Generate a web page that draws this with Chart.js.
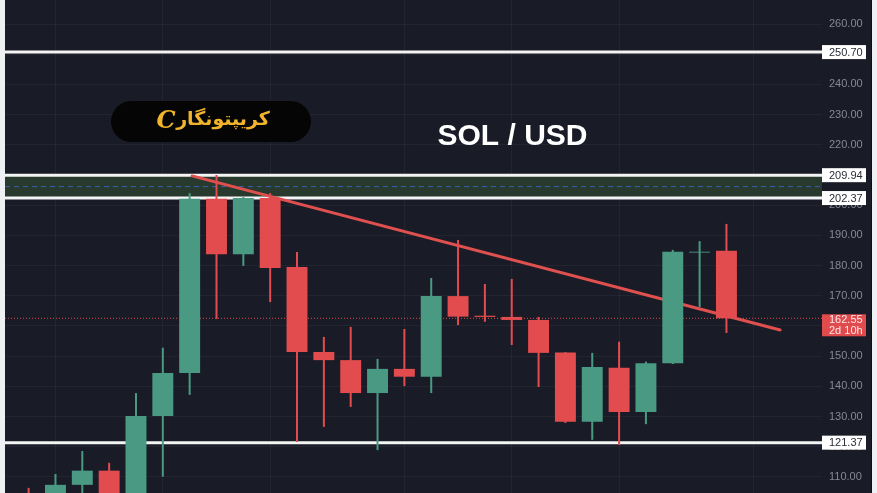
<!DOCTYPE html>
<html><head><meta charset="utf-8">
<script src="https://cdn.jsdelivr.net/npm/chart.js@4/dist/chart.umd.min.js"></script>
<style>
html,body{margin:0;padding:0;background:#eef0f3;width:877px;height:493px;overflow:hidden}
#wrap{position:absolute;left:5px;top:0;width:866px;height:493px;background:#191c27;border-right:1px solid #0c0e14}
canvas{display:block}
</style></head><body><div id="wrap"><canvas id="c" width="866" height="493"></canvas></div>
<script>
// ---- data ----
const candleIdx = [0,1,2,3,4,5,6,7,8,9,10,11,12,13,14,15,16,17,18,19,20,21,22,23,24,25,26];
const opens  = [104.4,101.0,107.4,112.1,101.5,130.2,144.4,202.1,183.8,202.4,179.5,151.4,148.7,137.8,145.8,143.2,169.9,163.4,163.0,162.0,151.2,128.3,146.2,131.5,147.7,184.3,184.9];
const highs  = [106.4,111.0,118.6,114.7,137.8,152.8,204.0,210.0,202.7,204.0,184.5,156.4,159.7,149.1,159.0,175.9,188.5,173.9,175.6,163.0,151.4,151.1,154.8,148.2,185.2,188.1,193.8];
const lows   = [ 99.0, 98.0,103.0, 99.5, 99.0,110.1,137.2,162.3,179.9,167.9,121.6,126.6,133.2,118.9,140.1,137.8,160.3,161.4,153.7,139.8,127.9,122.3,120.6,127.5,147.4,166.3,157.7];
const closes = [100.5,107.4,112.1,101.5,130.2,144.4,202.1,183.8,202.4,179.2,151.4,148.7,137.8,145.8,143.2,169.9,163.1,163.0,162.0,151.1,128.3,146.4,131.5,147.7,184.6,184.6,162.55];
const monthGridIdx = [1,5,9,14,18,22,27];
const levelLines = [250.70, 209.94, 202.37, 121.37];
const zoneBounds = [202.37, 209.94];
const lastPrice = 162.55;
const countdown = "2d 10h";
const trendX = [6.09, 28.0];
const trendY = [209.7, 158.7];
const yTicksStep = 10;
const titleText = "SOL / USD";
const brandText = "کریپتونگار";

const X_MIN = -0.88, X_MAX = 29.56, Y_MIN = 104.7, Y_MAX = 267.95;
const GREEN = '#4a9a83', RED = '#e24c4e';
const isUp = i => closes[i] >= opens[i];

const hline = (v) => [{x: X_MIN, y: v}, {x: X_MAX, y: v}];

const datasets = [
  { type:'bar', data: candleIdx.map((x,i)=>({x, y:[opens[i], closes[i]]})),
    backgroundColor: c => isUp(c.dataIndex) ? GREEN : RED,
    grouped:false, categoryPercentage:1, barPercentage:0.78, borderWidth:0 },
  { type:'bar', data: candleIdx.map((x,i)=>({x, y:[lows[i], highs[i]]})),
    backgroundColor: c => isUp(c.dataIndex) ? GREEN : RED,
    grouped:false, categoryPercentage:1, barPercentage:0.075, borderWidth:0 },
  { type:'line', data: trendX.map((x,i)=>({x, y: trendY[i]})), borderColor:'#e0504f', borderWidth:3, pointRadius:0, borderCapStyle:'round' },
  { type:'line', data: hline(lastPrice), borderColor:'#d94a4c', borderWidth:1, borderDash:[1,2], pointRadius:0 },
  ...levelLines.map(v => ({ type:'line', data: hline(v), borderColor:'#f4f4f4', borderWidth:3, pointRadius:0 })),
  { type:'line', data: hline((zoneBounds[0]+zoneBounds[1])/2), borderColor:'#3b5daf', borderWidth:1, borderDash:[5,4], pointRadius:0 },
  { type:'line', data: hline(zoneBounds[1]), borderWidth:0, pointRadius:0, backgroundColor:'#283a2e', fill:{value: zoneBounds[0]} }
];

const overlay = {
  id:'overlay',
  afterDraw(chart){
    const ctx = chart.ctx, y = chart.scales.y, area = chart.chartArea;
    ctx.save();
    // level label boxes
    ctx.font = '11px "Liberation Sans", Arial, sans-serif';
    ctx.textBaseline = 'middle'; ctx.textAlign = 'left';
    levelLines.forEach(v => {
      const py = y.getPixelForValue(v);
      ctx.fillStyle = '#ffffff';
      ctx.fillRect(area.right, py - 7, 44, 14);
      ctx.fillStyle = '#2a2d35';
      ctx.fillText(v.toFixed(2), area.right + 7, py + 0.5);
    });
    // last price box
    const pp = y.getPixelForValue(lastPrice);
    ctx.fillStyle = '#e04b4e';
    ctx.fillRect(area.right, pp - 4, 44, 22);
    ctx.fillStyle = '#fde8e8';
    ctx.fillText(lastPrice.toFixed(2), area.right + 7, pp + 2);
    ctx.fillText(countdown, area.right + 7, pp + 13);
    // title
    ctx.fillStyle = '#ffffff';
    ctx.font = 'bold 30px "Liberation Sans", Arial, sans-serif';
    ctx.textAlign = 'center';
    ctx.fillText(titleText, 507.5, 137);
    // brand pill
    ctx.fillStyle = '#050505';
    ctx.beginPath();
    ctx.roundRect(106, 101, 200, 41, 20.5);
    ctx.fill();
    ctx.fillStyle = '#f2b42c';
    ctx.font = 'bold 19px "DejaVu Sans", sans-serif';
    ctx.textAlign = 'center';
    ctx.direction = 'rtl';
    ctx.fillText(brandText, 218, 120);
    ctx.direction = 'ltr';
    ctx.font = 'italic bold 24px "DejaVu Serif", serif';
    ctx.fillText('C', 161, 122);
    ctx.restore();
  }
};

new Chart(document.getElementById('c'), {
  type:'bar',
  data:{ datasets },
  plugins:[overlay],
  options:{
    responsive:false, animation:false, devicePixelRatio:1,
    layout:{ padding:0 },
    plugins:{ legend:{display:false}, tooltip:{enabled:false}, title:{display:false} },
    scales:{
      x:{ type:'linear', min:X_MIN, max:X_MAX, offset:false,
          grid:{ offset:false, color:'rgba(255,255,255,0.045)', drawTicks:false },
          border:{display:false}, ticks:{display:false},
          afterBuildTicks: s => { s.ticks = monthGridIdx.map(v => ({value:v})); },
          afterFit: s => { s.height = 0; s.paddingLeft = 0; s.paddingRight = 0; } },
      y:{ type:'linear', position:'right', min:Y_MIN, max:Y_MAX, beginAtZero:false,
          grid:{ color:'rgba(255,255,255,0.045)', drawTicks:false },
          border:{display:false},
          ticks:{ stepSize:yTicksStep, includeBounds:false, padding:7, color:'#868993',
                  font:{ size:11, family:'"Liberation Sans", Arial, sans-serif' },
                  callback: v => Number(v).toFixed(2) },
          afterFit: s => { s.width = 49; s.paddingTop = 0; s.paddingBottom = 0; } }
    }
  }
});
</script></body></html>
